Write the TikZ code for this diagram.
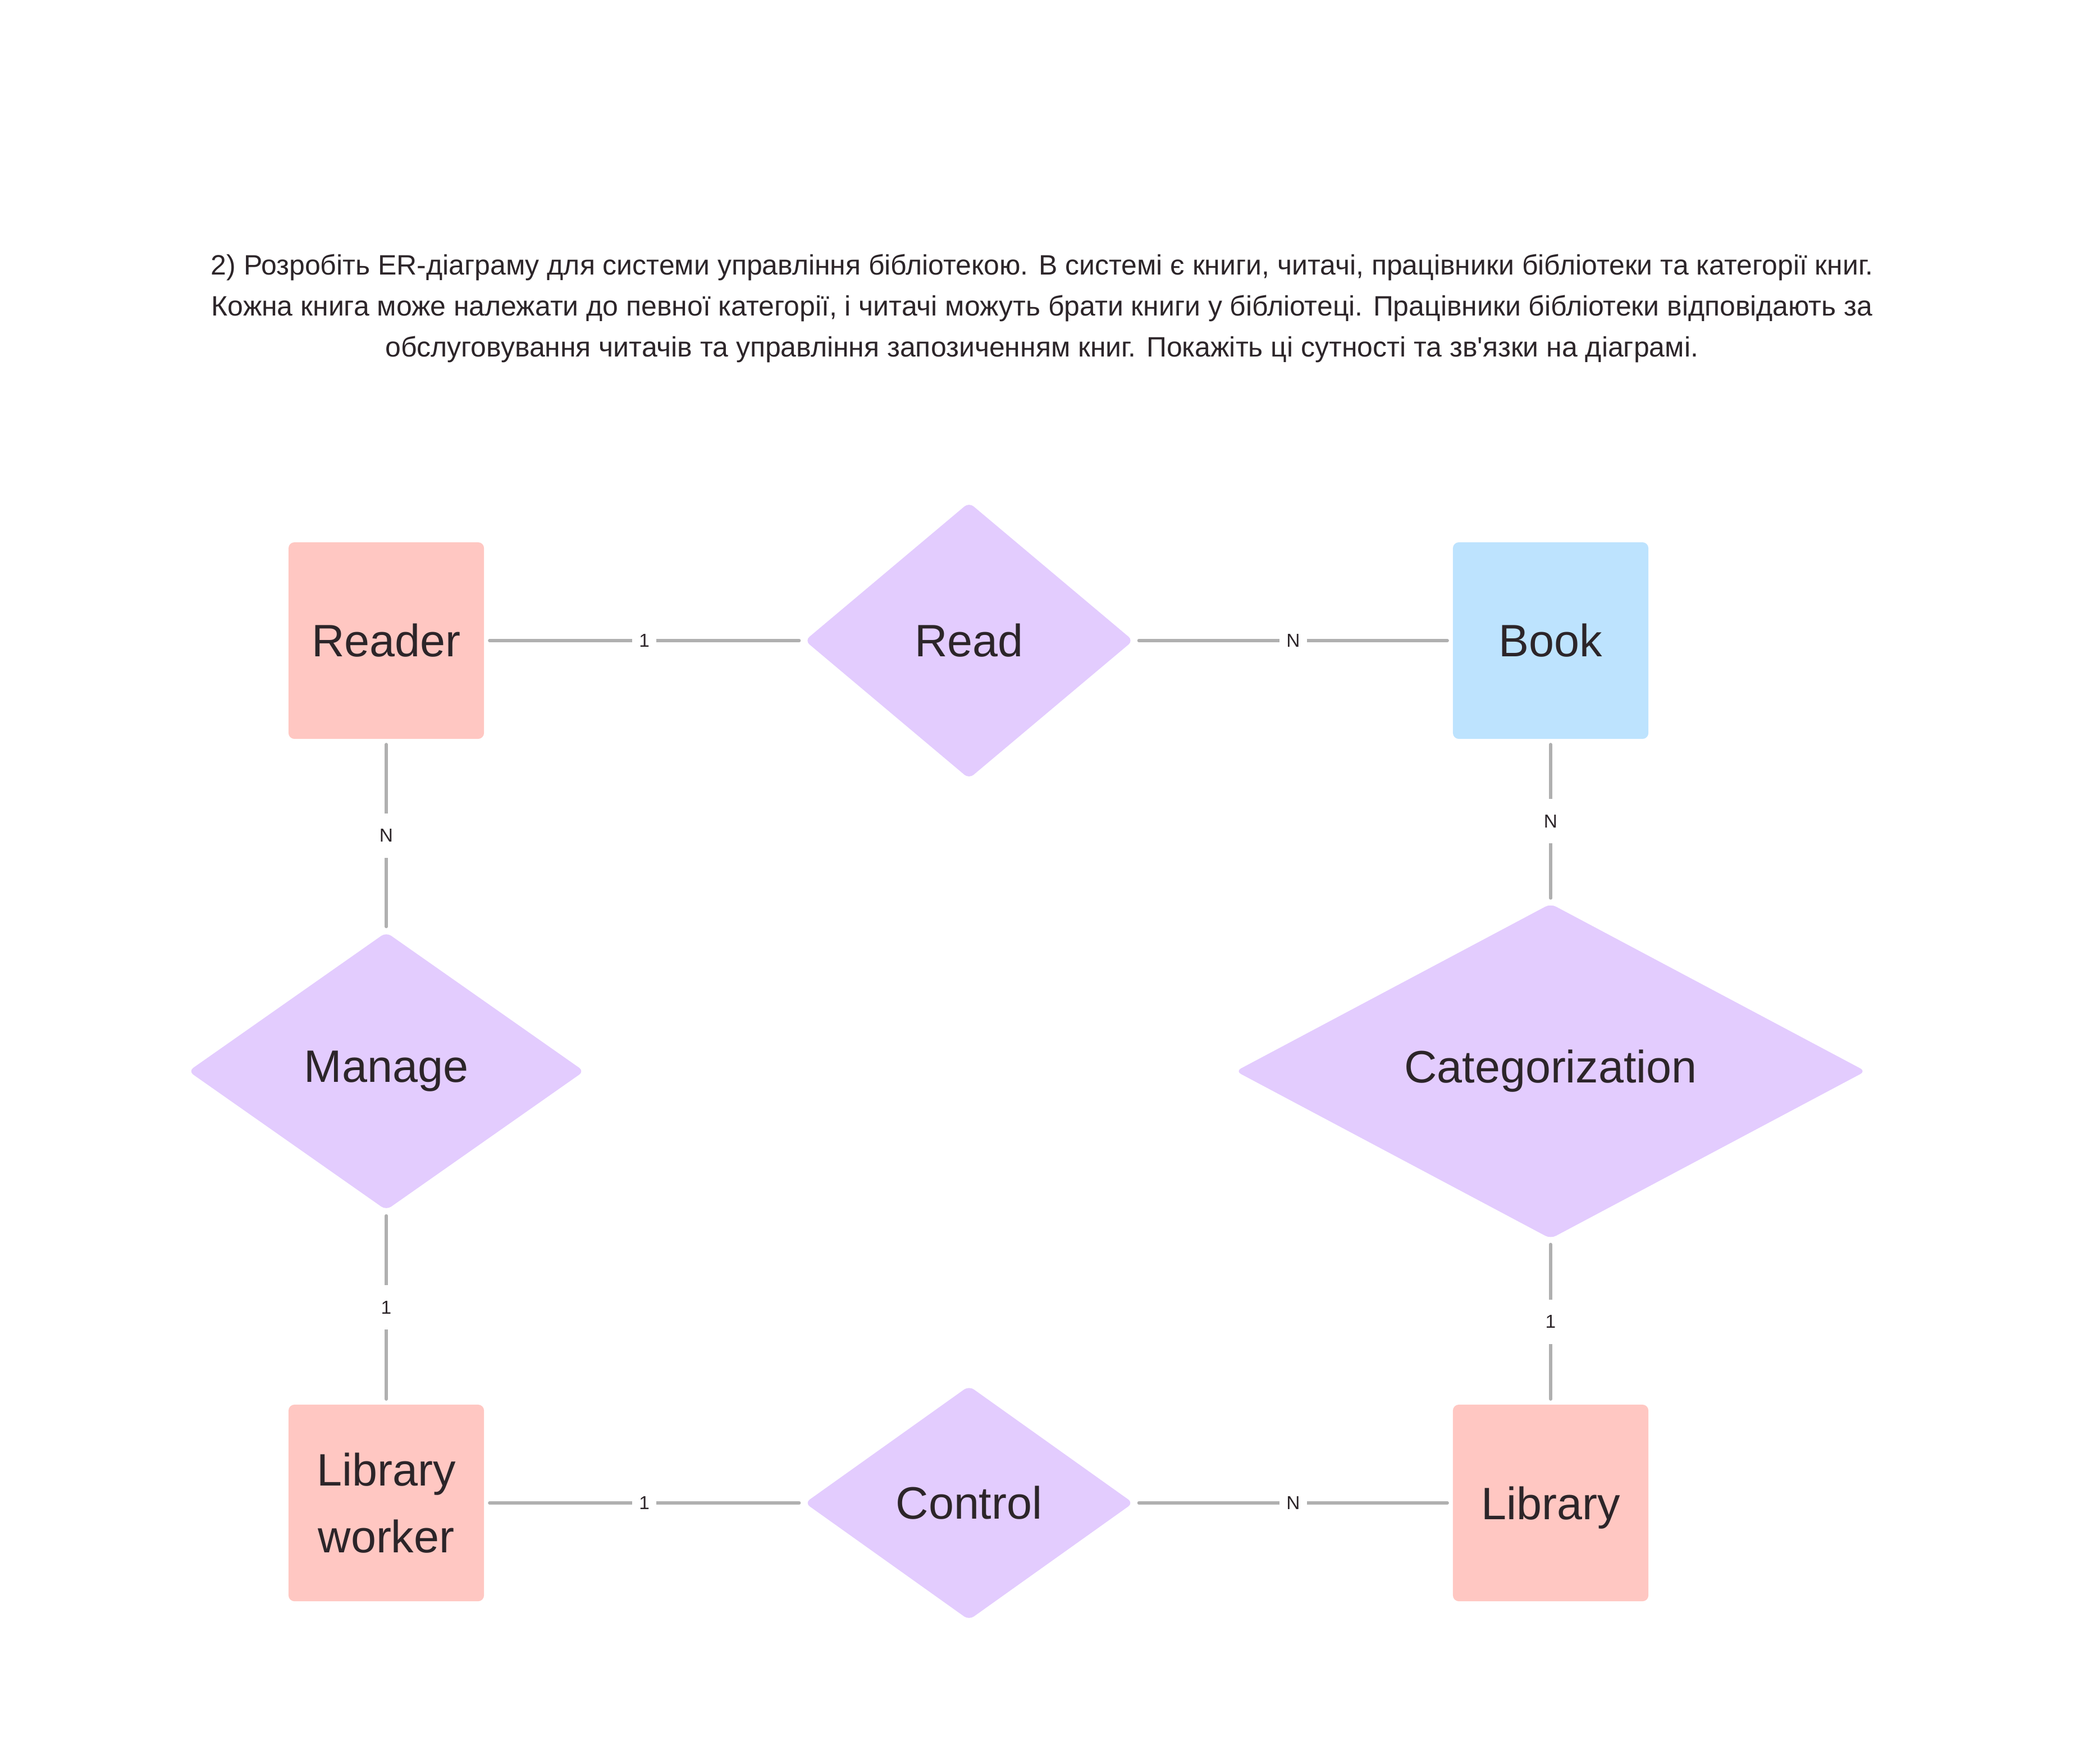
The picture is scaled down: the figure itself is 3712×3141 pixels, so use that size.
\documentclass[tikz,border=0pt]{standalone}
\usepackage{fontspec}
\setmainfont{Liberation Sans}
\usetikzlibrary{shapes.geometric}
\definecolor{ink}{HTML}{2C2529}
\definecolor{pinkbox}{HTML}{FFC7C2}
\definecolor{bluebox}{HTML}{BDE3FE}
\definecolor{lilac}{HTML}{E3CCFE}
\definecolor{wire}{HTML}{B0B0B0}
\begin{document}
\begin{tikzpicture}[x=0.01cm,y=-0.01cm,
  entity/.style={rectangle,rounded corners=3pt,minimum width=3.48cm,minimum height=3.5cm,inner sep=0pt,text=ink,align=center,font=\fontsize{23}{33.6}\selectfont},
  rel/.style={diamond,aspect=1,rounded corners=3pt,fill=lilac,inner sep=0pt,text=ink,font=\fontsize{23}{28}\selectfont},
  link/.style={draw=wire,line width=1.5pt,line cap=round,shorten >=0.09cm,shorten <=0.09cm},
  card/.style={fill=white,text=ink,inner xsep=3.5pt,inner ysep=8pt,font=\fontsize{9.5}{11}\selectfont}]
\useasboundingbox (0,0) rectangle (3712,3141);

\node[text=ink,align=center,font=\fontsize{14.2}{20.8}\selectfont] (task) at (1856,549) {2) Розробіть ER-діаграму для системи управління бібліотекою. В системі є книги, читачі, працівники бібліотеки та категорії книг.\\Кожна книга може належати до певної категорії, і читачі можуть брати книги у бібліотеці. Працівники бібліотеки відповідають за\\обслуговування читачів та управління запозиченням книг. Покажіть ці сутності та зв\textquotesingle язки на діаграмі.};

\node[entity,fill=pinkbox] (reader) at (688,1141) {Reader};
\node[rel,minimum width=5.85cm,minimum height=4.92cm] (read) at (1726,1141) {Read};
\node[entity,fill=bluebox] (book) at (2762,1141) {Book};

\node[rel,minimum width=7.05cm,minimum height=4.95cm] (manage) at (688,1908) {Manage};
\node[rel,minimum width=11.22cm,minimum height=5.8cm] (categ) at (2762,1908) {Categorization};

\node[entity,fill=pinkbox] (worker) at (688,2677) {Library\\worker};
\node[rel,minimum width=5.85cm,minimum height=4.17cm] (control) at (1726,2677) {Control};
\node[entity,fill=pinkbox,text depth=0pt] (library) at (2762,2677) {Library};

\draw[link] (reader) -- node[card] {1} (read);
\draw[link] (read) -- node[card] {N} (book);
\draw[link] (reader) -- node[card] {N} (manage);
\draw[link] (manage) -- node[card] {1} (worker);
\draw[link] (book) -- node[card] {N} (categ);
\draw[link] (categ) -- node[card] {1} (library);
\draw[link] (worker) -- node[card] {1} (control);
\draw[link] (control) -- node[card] {N} (library);

\end{tikzpicture}
\end{document}
